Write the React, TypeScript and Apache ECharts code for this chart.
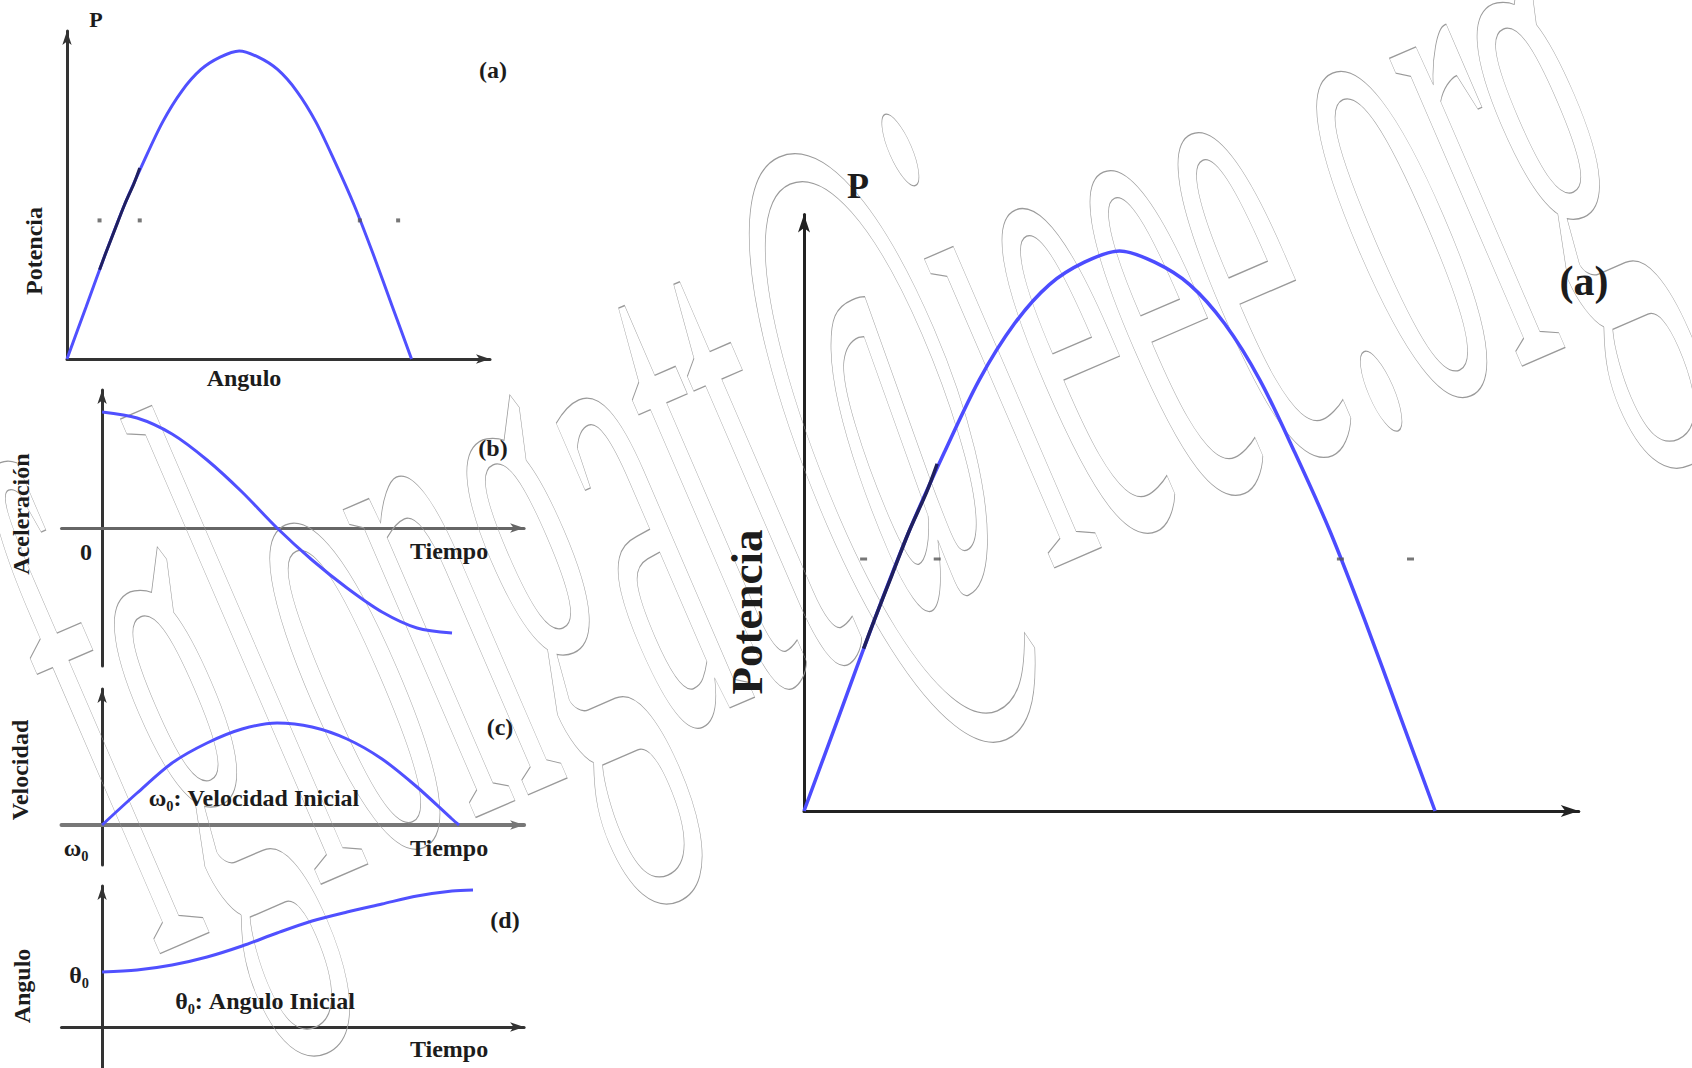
import React, { useEffect, useRef } from 'react';
import * as echarts from 'echarts';

// ---- Data ----
// (a) power-angle curve (angle in degrees, power in % of max)
const powerAngles = [0, 10, 20, 30, 40, 50, 60, 70, 80, 90, 100, 110, 120, 130, 140, 150, 160, 170, 180];
const powerValues = [0, 17, 34, 50, 64, 77, 87, 94, 98, 100, 98, 94, 87, 77, 64, 50, 34, 17, 0];
// darker stretch of the curve
const stableAngles = [17, 20, 25, 30, 35, 38];
const stablePower = [29, 34, 42, 50, 57, 62];
// small marks along P = 45
const markAngles = [17, 38, 153, 173];
const markPower = [45, 45, 45, 45];

// (b) acceleration vs time
const timesAccel = [0, 1, 2, 3, 4, 5, 6, 7, 8, 9, 10];
const accelValues = [1.16, 1.1, 0.94, 0.68, 0.36, 0, -0.32, -0.6, -0.84, -1.0, -1.05];
// (c) velocity vs time
const timesVel = [0, 1, 2, 3, 4, 5, 6, 7, 8, 9, 10, 10.2];
const velValues = [0, 0.32, 0.62, 0.82, 0.96, 1.02, 0.98, 0.86, 0.66, 0.38, 0.06, 0];
// (d) angle vs time
const timesAng = [0, 1, 2, 3, 4, 5, 6, 7, 8, 9, 10, 10.6];
const angleValues = [0.55, 0.57, 0.62, 0.7, 0.81, 0.94, 1.06, 1.15, 1.23, 1.31, 1.36, 1.37];

const WATERMARK = 'fglongatt@ieee.org';

const zip = (xs: number[], ys: number[]) => xs.map((x, i) => [x, ys[i]]);

const BLUE = '#5050ff';
const NAVY = '#202060';
const FONT = '"Liberation Serif", "Times New Roman", serif';

function axis(min: number, max: number, color: string, width: number, arrow: number[]) {
  return {
    type: 'value',
    min,
    max,
    axisLine: {
      show: true,
      onZero: true,
      symbol: ['none', 'arrow'],
      symbolSize: arrow,
      lineStyle: { color, width },
    },
    axisTick: { show: false },
    axisLabel: { show: false },
    splitLine: { show: false },
  };
}

function label(text: string, x: number, y: number, size: number, rotation = 0) {
  return {
    type: 'text',
    x,
    y,
    rotation,
    z: 10,
    style: {
      text,
      fill: '#1c1c1c',
      font: `bold ${size}px ${FONT}`,
      textAlign: 'center',
      textVerticalAlign: 'middle',
      align: 'center',
      verticalAlign: 'middle',
    },
  };
}

export default function App() {
  const ref = useRef<HTMLDivElement>(null);

  useEffect(() => {
    if (!ref.current) return;
    const chart = echarts.init(ref.current, null, { renderer: 'svg', width: 1692, height: 1068 });

    const option = {
      animation: false,
      backgroundColor: '#ffffff',
      grid: [
        { left: 67, top: 31, width: 423, height: 328 },
        { left: 61.5, top: 390, width: 462.6, height: 276 },
        { left: 61.5, top: 689, width: 462.6, height: 176 },
        { left: 61.5, top: 886, width: 462.6, height: 182 },
        { left: 804, top: 214.6, width: 774.8, height: 596.4 },
      ],
      xAxis: [
        { ...axis(0, 221, '#333', 3, [7, 14]), gridIndex: 0 },
        { ...axis(-1.16, 12.06, '#666', 3, [7, 14]), gridIndex: 1 },
        { ...axis(-1.16, 12.06, '#777', 4, [7, 14]), gridIndex: 2 },
        { ...axis(-1.16, 12.06, '#333', 3, [7, 14]), gridIndex: 3 },
        { ...axis(0, 221, '#222', 3, [9, 18]), gridIndex: 4 },
      ],
      yAxis: [
        { ...axis(0, 106.5, '#333', 3, [7, 14]), gridIndex: 0 },
        { ...axis(-1.38, 1.38, '#333', 3, [7, 14]), gridIndex: 1 },
        { ...axis(-0.4, 1.36, '#333', 3, [7, 14]), gridIndex: 2 },
        { ...axis(-0.41, 1.41, '#333', 3, [7, 14]), gridIndex: 3 },
        { ...axis(0, 106.5, '#222', 3, [9, 18]), gridIndex: 4 },
      ],
      series: [
        { type: 'line', xAxisIndex: 0, yAxisIndex: 0, data: zip(powerAngles, powerValues), smooth: 0.3, showSymbol: false, silent: true, lineStyle: { color: BLUE, width: 3 }, z: 3 },
        { type: 'line', xAxisIndex: 0, yAxisIndex: 0, data: zip(stableAngles, stablePower), smooth: 0.3, showSymbol: false, silent: true, lineStyle: { color: NAVY, width: 3 }, z: 4 },
        { type: 'scatter', xAxisIndex: 0, yAxisIndex: 0, data: zip(markAngles, markPower), symbol: 'rect', symbolSize: [4, 4], silent: true, itemStyle: { color: '#555' }, z: 5 },

        { type: 'line', xAxisIndex: 1, yAxisIndex: 1, data: zip(timesAccel, accelValues), smooth: 0.3, showSymbol: false, silent: true, lineStyle: { color: BLUE, width: 3 }, z: 3 },
        { type: 'line', xAxisIndex: 2, yAxisIndex: 2, data: zip(timesVel, velValues), smooth: 0.3, showSymbol: false, silent: true, lineStyle: { color: BLUE, width: 3 }, z: 3 },
        { type: 'line', xAxisIndex: 3, yAxisIndex: 3, data: zip(timesAng, angleValues), smooth: 0.3, showSymbol: false, silent: true, lineStyle: { color: BLUE, width: 3 }, z: 3 },

        { type: 'line', xAxisIndex: 4, yAxisIndex: 4, data: zip(powerAngles, powerValues), smooth: 0.3, showSymbol: false, silent: true, lineStyle: { color: '#4c4cff', width: 3.5 }, z: 3 },
        { type: 'line', xAxisIndex: 4, yAxisIndex: 4, data: zip(stableAngles, stablePower), smooth: 0.3, showSymbol: false, silent: true, lineStyle: { color: NAVY, width: 3.5 }, z: 4 },
        { type: 'scatter', xAxisIndex: 4, yAxisIndex: 4, data: zip(markAngles, markPower), symbol: 'rect', symbolSize: [7, 3], silent: true, itemStyle: { color: '#555' }, z: 5 },
      ],
      graphic: [
        {
          type: 'text',
          x: 818,
          y: 401,
          rotation: 0.407,
          scaleX: 1,
          scaleY: 3.38,
          silent: true,
          z: 1,
          style: {
            text: WATERMARK,
            font: `216px ${FONT}`,
            fill: 'none',
            stroke: '#9a9a9a',
            lineWidth: 1,
            textAlign: 'center',
            textVerticalAlign: 'middle',
            align: 'center',
            verticalAlign: 'middle',
          },
        },
        // (a) small
        label('P', 96, 19, 22),
        label('(a)', 493, 70, 24),
        label('Potencia', 34, 251, 24, Math.PI / 2),
        label('Angulo', 244, 378, 24),
        // (b)
        label('(b)', 493, 448, 24),
        label('0', 86, 552, 24),
        label('Tiempo', 449, 551, 24),
        label('Aceleración', 21, 514, 24, Math.PI / 2),
        // (c)
        label('(c)', 500, 727, 24),
        label('ω₀: Velocidad Inicial', 254, 798, 24),
        label('ω₀', 76, 848, 24),
        label('Tiempo', 449, 848, 24),
        label('Velocidad', 20, 770, 24, Math.PI / 2),
        // (d)
        label('(d)', 505, 920, 24),
        label('θ₀', 79, 975, 24),
        label('θ₀: Angulo Inicial', 265, 1001, 24),
        label('Tiempo', 449, 1049, 24),
        label('Angulo', 22, 986, 24, Math.PI / 2),
        // big (a)
        label('P', 858, 186, 36),
        label('(a)', 1584, 281, 42),
        label('Potencia', 747, 612, 45, Math.PI / 2),
      ],
    };

    chart.setOption(option as any);

    ref.current.querySelectorAll('text').forEach((t) => {
      const s = t.getAttribute('stroke') || '';
      if (s.indexOf('9a9a9a') >= 0 || s.indexOf('154') >= 0) {
        t.setAttribute('vector-effect', 'non-scaling-stroke');
        (t as any).style.vectorEffect = 'non-scaling-stroke';
      }
    });

    return () => chart.dispose();
  }, []);

  return (
    <div
      ref={ref}
      style={{ position: 'absolute', left: 0, top: 0, width: 1692, height: 1068, background: '#fff' }}
    />
  );
}
